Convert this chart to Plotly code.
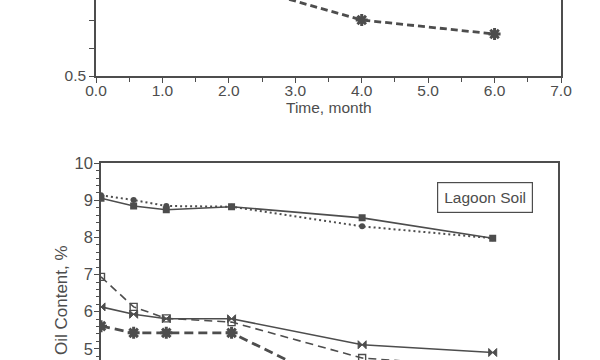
import plotly.graph_objects as go

# ---- data ----
time_top = [0.0, 0.5, 1.0, 2.0, 4.0, 6.0]
top_series = [1.05, 0.98, 0.92, 0.835, 0.70, 0.65]

time = [0.0, 0.5, 1.0, 2.0, 4.0, 6.0]
soil_a = [9.06, 8.85, 8.75, 8.83, 8.53, 7.98]   # solid, filled squares
soil_b = [9.14, 9.01, 8.85, 8.83, 8.30, 7.98]   # dotted, filled circles
soil_c = [6.13, 5.93, 5.81, 5.81, 5.11, 4.90]   # solid, bowtie
soil_d = [6.94, 6.13, 5.82, 5.72, 4.75, 4.50]   # dashed, open squares
soil_e = [5.61, 5.43, 5.43, 5.43, 3.70, 3.40]   # heavy dashed, asterisk

top_ytickvals = [0.5, 0.6, 0.7, 0.8]
top_yticktext = ["0.5", "", "", ""]
bot_ytickvals = [5, 6, 7, 8, 9, 10]

INK = "#4d4d4d"
FONT = "Liberation Sans, Arial, Helvetica, sans-serif"

fig = go.Figure()

# top chart (only bottom part visible)
fig.add_trace(go.Scatter(
    x=time_top, y=top_series, xaxis="x", yaxis="y", mode="lines+markers",
    line=dict(color=INK, width=2.8, dash="7px,4px"),
    marker=dict(symbol="asterisk-open", size=10, color=INK, line=dict(color=INK, width=3)),
    showlegend=False))

# bottom chart
fig.add_trace(go.Scatter(
    x=time, y=soil_a, xaxis="x2", yaxis="y2", mode="lines+markers",
    line=dict(color=INK, width=1.6),
    marker=dict(symbol="square", size=7, color=INK), showlegend=False))
fig.add_trace(go.Scatter(
    x=time, y=soil_b, xaxis="x2", yaxis="y2", mode="lines+markers",
    line=dict(color=INK, width=2, dash="2px,3px"),
    marker=dict(symbol="circle", size=6, color=INK), showlegend=False))
fig.add_trace(go.Scatter(
    x=time, y=soil_c, xaxis="x2", yaxis="y2", mode="lines+markers",
    line=dict(color=INK, width=1.6),
    marker=dict(symbol="bowtie", size=8, color=INK, line=dict(color=INK, width=1)),
    showlegend=False))
fig.add_trace(go.Scatter(
    x=time, y=soil_d, xaxis="x2", yaxis="y2", mode="lines+markers",
    line=dict(color=INK, width=1.6, dash="8px,5px"),
    marker=dict(symbol="square-open", size=7, color=INK, line=dict(color=INK, width=1.4)),
    showlegend=False))
fig.add_trace(go.Scatter(
    x=time, y=soil_e, xaxis="x2", yaxis="y2", mode="lines+markers",
    line=dict(color=INK, width=2.8, dash="9px,5px"),
    marker=dict(symbol="asterisk-open", size=10, color=INK, line=dict(color=INK, width=3)),
    showlegend=False))

W, H = 600, 360
fig.update_layout(
    width=W, height=H, margin=dict(l=0, r=0, t=0, b=0, autoexpand=False),
    paper_bgcolor="white", plot_bgcolor="white",
    font=dict(family=FONT, color=INK, size=15),
    xaxis=dict(domain=[96 / W, 561 / W], range=[0, 7], anchor="y", automargin=False,
               showline=True, linecolor=INK, linewidth=1.5, mirror=False,
               ticks="outside", ticklen=5, tickcolor=INK, dtick=1, tick0=0,
               tickformat=".1f", showgrid=False, zeroline=False, ticklabelstandoff=-5,
               tickfont=dict(size=15.5),
               minor=dict(dtick=0.5, ticks="outside", ticklen=4, tickcolor=INK, showgrid=False)),
    yaxis=dict(domain=[1 - 76 / H, 1], range=[0.5, 0.5 + 76 / 280], anchor="x", automargin=False,
               showline=True, linecolor=INK, linewidth=1.5, mirror=True,
               ticks="outside", ticklen=5, tickcolor=INK, tickfont=dict(size=15.5),
               tickmode="array", tickvals=top_ytickvals, ticktext=top_yticktext,
               showgrid=False, zeroline=False),
    xaxis2=dict(domain=[101 / W, 558 / W], range=[0, 7], anchor="y2", side="top", automargin=False,
                showline=True, linecolor=INK, linewidth=1.5, mirror=False,
                showticklabels=False, ticks="", showgrid=False, zeroline=False),
    yaxis2=dict(domain=[0, (H - 163.3) / H], range=[10 - (H - 163.3) / 37.1, 10], anchor="x2",
                automargin=False,
                showline=True, linecolor=INK, linewidth=1.5, mirror=True,
                ticks="outside", ticklen=5, tickcolor=INK, tickfont=dict(size=16.5),
                tickmode="array", tickvals=bot_ytickvals, ticklabelstandoff=-2,
                showgrid=False, zeroline=False,
                minor=dict(dtick=0.2, tick0=0, ticks="outside", ticklen=3, tickcolor=INK, showgrid=False)),
    annotations=[
        dict(text="Time, month", x=328.5 / W, y=1 - 107 / H, xref="paper", yref="paper",
             xanchor="center", yanchor="middle",
             showarrow=False, font=dict(size=15.5, color=INK)),
        dict(text="Lagoon Soil", x=485 / W, y=1 - 197.8 / H, xref="paper", yref="paper",
             xanchor="center", yanchor="middle",
             showarrow=False, font=dict(size=15.5, color=INK),
             bordercolor=INK, borderwidth=1.2, borderpad=6, bgcolor="white"),
        dict(text="Oil Content, %", x=61 / W, y=1 - 300 / H, xref="paper", yref="paper",
             xanchor="center", yanchor="middle",
             showarrow=False, textangle=-90, font=dict(size=17, color=INK)),
    ],
)

fig.write_html("out.html")
